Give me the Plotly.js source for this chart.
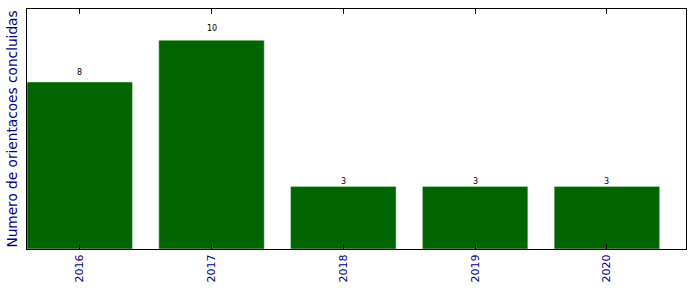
<!DOCTYPE html>
<html>
<head>
<meta charset="utf-8">
<script src="https://cdn.plot.ly/plotly-3.0.1.min.js"></script>
<style>html,body{margin:0;padding:0;background:#fff;}#chart{width:696px;height:292px;}</style>
</head>
<body>
<div id="chart"></div>
<script>
const years = ["2016", "2017", "2018", "2019", "2020"];
const counts = [8, 10, 3, 3, 3];
const yLabel = "Numero de orientacoes concluidas";

const annotations = years.map((y, i) => ({
  xref: "x", yref: "y",
  x: i, y: counts[i] * 1.05, text: String(counts[i]),
  showarrow: false, yanchor: "middle", xanchor: "center", yshift: 1.5,
  font: {family: "DejaVu Sans", size: 8, color: "#000000"}
}));

Plotly.newPlot("chart", [{
  type: "bar",
  x: years,
  y: counts,
  width: 0.8,
  marker: {color: "#006400", line: {color: "#d8e6d8", width: 0.5}},
  hoverinfo: "none"
}], {
  width: 696, height: 292,
  margin: {l: 27, r: 10, t: 9, b: 43},
  paper_bgcolor: "#fff", plot_bgcolor: "#fff",
  font: {family: "DejaVu Sans"},
  showlegend: false,
  annotations: annotations,
  xaxis: {
    type: "category", range: [-0.4, 4.6],
    showline: true, linecolor: "#000", linewidth: 1, mirror: "allticks",
    ticks: "inside", ticklen: 5, tickcolor: "#000",
    tickangle: -90, tickfont: {family: "DejaVu Sans", size: 11, color: "#00008b"},
    showgrid: false, zeroline: false
  },
  yaxis: {
    range: [0, 11.5],
    showline: true, linecolor: "#000", linewidth: 1, mirror: true,
    ticks: "", showticklabels: false, showgrid: false, zeroline: false,
    title: {text: yLabel, font: {family: "DejaVu Sans", size: 13.7, color: "#00008b"}, standoff: 5}
  }
}, {displayModeBar: false});
</script>
</body>
</html>
